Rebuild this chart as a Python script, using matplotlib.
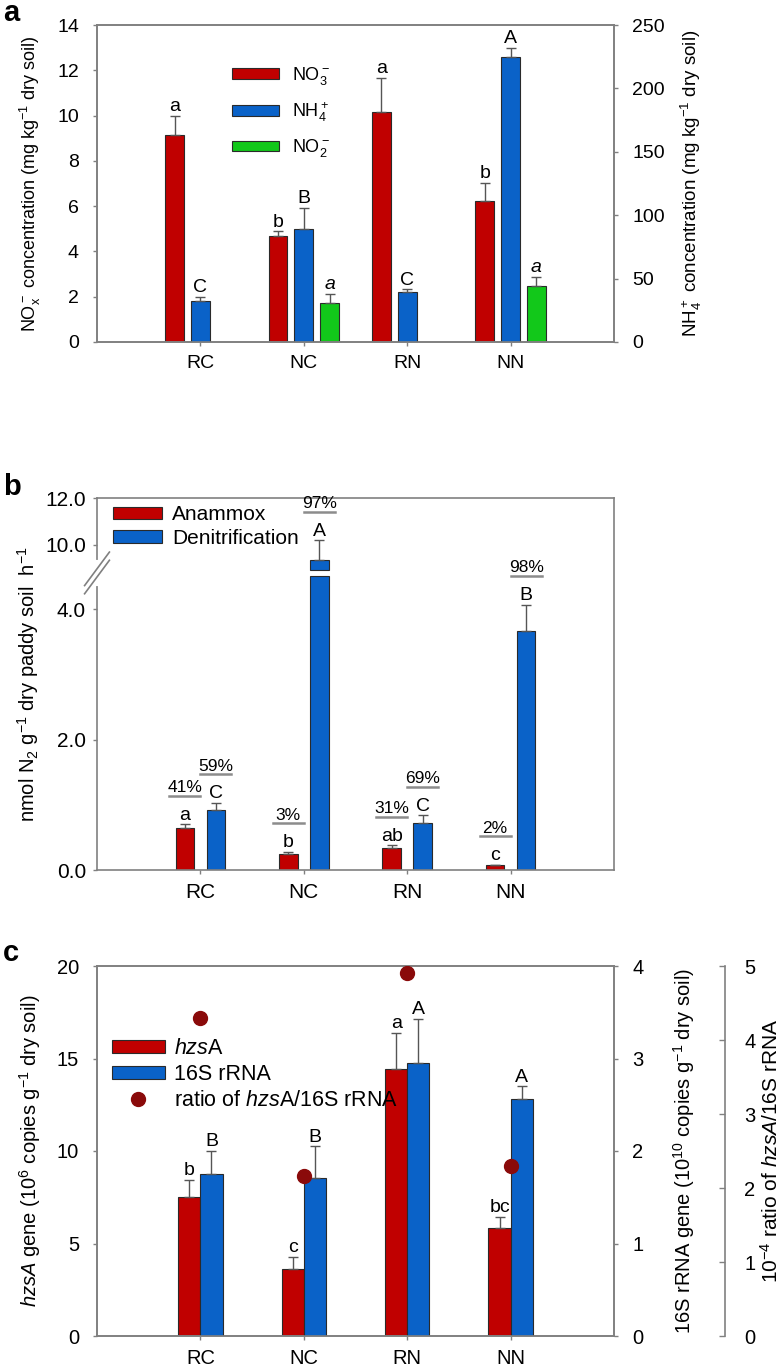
import numpy as np
import matplotlib
matplotlib.use("Agg")
import matplotlib.pyplot as plt
from matplotlib.transforms import offset_copy

plt.rcParams['font.family'] = ['Liberation Sans', 'DejaVu Sans']
plt.rcParams['mathtext.fontset'] = 'custom'
plt.rcParams['mathtext.rm'] = 'Liberation Sans'
plt.rcParams['mathtext.it'] = 'Liberation Sans:italic'
plt.rcParams['mathtext.default'] = 'regular'

# ---------------- data ----------------
groups = ['RC', 'NC', 'RN', 'NN']

# panel a
no3 = [9.14, 4.66, 10.15, 6.21]
no3_err = [0.85, 0.23, 1.52, 0.81]
nh4 = [32.1, 89.0, 39.8, 225.0]
nh4_err = [3.4, 16.7, 1.8, 7.0]
no2 = [np.nan, 1.72, np.nan, 2.48]
no2_err = [np.nan, 0.42, np.nan, 0.39]
no3_let = ['a', 'b', 'a', 'b']
nh4_let = ['C', 'B', 'C', 'A']
no2_let = ['', 'a', '', 'a']

# panel b
anammox = [0.64, 0.25, 0.33, 0.07]
anammox_err = [0.06, 0.03, 0.05, 0.01]
denit = [0.92, 9.37, 0.72, 3.66]
denit_err = [0.11, 0.82, 0.12, 0.41]
anammox_let = ['a', 'b', 'ab', 'c']
denit_let = ['C', 'A', 'C', 'B']
anammox_pct = ['41%', '3%', '31%', '2%']
denit_pct = ['59%', '97%', '69%', '98%']

# panel c
hzsa = [7.50, 3.64, 14.44, 5.84]
hzsa_err = [0.94, 0.64, 1.94, 0.60]
rrna = [1.75, 1.71, 2.95, 2.56]
rrna_err = [0.25, 0.34, 0.48, 0.14]
ratio = [4.30, 2.16, 4.90, 2.30]
hzsa_let = ['b', 'c', 'a', 'bc']
rrna_let = ['B', 'B', 'A', 'A']

# ---------------- style ----------------
RED = '#C00000'
BLUE = '#0A62C8'
GREEN = '#12C81A'
DOT = '#8A0A0A'
SPINE = '#808080'
EDGE = '#2a2a2a'
ECOL = '#555555'
LET_FS = 14

x = np.arange(1, len(groups) + 1)

fig = plt.figure(figsize=(7.83, 13.72), dpi=100)
L, W = 97 / 783, 517 / 783
axa = fig.add_axes([L, 1 - 342 / 1372, W, 317 / 1372])
axb = fig.add_axes([L, 1 - 870 / 1372, W, 372 / 1372])
axc = fig.add_axes([L, 1 - 1336 / 1372, W, 370 / 1372])


def style(ax, fs):
    for s in ax.spines.values():
        s.set_color(SPINE)
        s.set_linewidth(1.2)
    ax.tick_params(axis='both', direction='out', length=3, width=1.0,
                   color=SPINE, labelsize=fs, pad=10)
    ax.tick_params(axis='x', pad=6)


def err(ax, xs, vals, errs):
    ax.errorbar(xs, vals, yerr=[np.zeros(len(vals)), errs], fmt='none',
                ecolor=ECOL, elinewidth=1.0, capsize=3.5, capthick=1.0, zorder=3)


def letters(ax, xs, tops, labs, italic=False, dy=0.5):
    for xi, t, lab in zip(xs, tops, labs):
        if lab == '' or np.isnan(t):
            continue
        ax.annotate(lab, (xi, t), xytext=(0, dy), textcoords='offset points',
                    ha='center', va='bottom', fontsize=LET_FS,
                    fontstyle='italic' if italic else 'normal', zorder=4)


# ---------------- panel a ----------------
FA = 14
style(axa, FA)
axa2 = axa.twinx()
style(axa2, FA)
bw = 0.18
b_no3 = axa.bar(x - 0.25, no3, bw, color=RED, edgecolor=EDGE, linewidth=0.8)
b_no2 = axa.bar(x + 0.25, no2, bw, color=GREEN, edgecolor=EDGE, linewidth=0.8)
b_nh4 = axa2.bar(x, nh4, bw, color=BLUE, edgecolor=EDGE, linewidth=0.8)
err(axa, x - 0.25, no3, no3_err)
err(axa, x + 0.25, no2, no2_err)
err(axa2, x, nh4, nh4_err)
letters(axa, x - 0.25, np.add(no3, no3_err), no3_let)
letters(axa, x + 0.25, np.add(no2, no2_err), no2_let, italic=True)
letters(axa2, x, np.add(nh4, nh4_err), nh4_let)
axa.set_xlim(0, 5)
axa.set_ylim(0, 14)
axa.set_yticks(np.arange(0, 15, 2))
axa2.set_ylim(0, 250)
axa2.set_yticks(np.arange(0, 251, 50))
axa.set_xticks(x)
axa.set_xticklabels(groups)
axa.set_ylabel('NO$_x^-$ concentration (mg kg$^{-1}$ dry soil)', fontsize=13, labelpad=10)
axa2.set_ylabel('NH$_4^+$ concentration (mg kg$^{-1}$ dry soil)', fontsize=13.5,
                rotation=90, labelpad=10)
axa2.legend([b_no3, b_nh4, b_no2], ['NO$_3^-$', 'NH$_4^+$', 'NO$_2^-$'],
            loc='upper left', bbox_to_anchor=(0.261, 0.875), frameon=False,
            borderpad=0, borderaxespad=0, handlelength=2.6, handleheight=0.55,
            labelspacing=0.75, handletextpad=0.7, fontsize=13)

# ---------------- panel b ----------------
BRK_LO, BRK_HI, K = 4.555, 8.8, 0.359


def fwd(v):
    v = np.asarray(v, dtype=float)
    return np.where(v <= BRK_LO, v,
                    np.where(v >= BRK_HI, BRK_LO + (v - BRK_HI) * K, BRK_LO))


def inv(u):
    u = np.asarray(u, dtype=float)
    return np.where(u <= BRK_LO, u, BRK_HI + (u - BRK_LO) / K)


FB = 15
style(axb, FB)
axb.set_yscale('function', functions=(fwd, inv))
axb.set_ylim(0, 12)
axb.set_xlim(0, 5)
bw = 0.18
gap = 0.04
gap_lo = float(inv(BRK_LO - gap))
gap_hi = float(inv(BRK_LO + gap))
denit_arr = np.asarray(denit)
b_an = axb.bar(x - 0.15, anammox, bw, color=RED, edgecolor=EDGE, linewidth=0.8)
lower = np.where(denit_arr > BRK_HI, gap_lo, denit_arr)
b_de = axb.bar(x + 0.15, lower, bw, color=BLUE, edgecolor=EDGE, linewidth=0.8)
m = denit_arr > BRK_HI
axb.bar((x + 0.15)[m], denit_arr[m] - gap_hi, bw, bottom=gap_hi, color=BLUE,
        edgecolor=EDGE, linewidth=0.8)
err(axb, x - 0.15, anammox, anammox_err)
err(axb, x + 0.15, denit, denit_err)
an_top = np.add(anammox, anammox_err)
de_top = np.add(denit, denit_err)
letters(axb, x - 0.15, an_top, anammox_let)
letters(axb, x + 0.15, de_top, denit_let)
line_tr = offset_copy(axb.transData, fig=fig, x=0, y=20.5, units='points')
for xs, tops, pcts in ((x - 0.15, an_top, anammox_pct), (x + 0.15, de_top, denit_pct)):
    for xi, t, p in zip(xs, tops, pcts):
        axb.plot([xi - 0.15, xi + 0.15], [t, t], color='#8c8c8c', lw=1.8,
                 transform=line_tr, clip_on=False, zorder=4)
        axb.annotate(p, (xi, t), xytext=(0, 21), textcoords='offset points',
                     ha='center', va='bottom', fontsize=12.5, zorder=4)
axb.set_yticks([0, 2, 4, 10, 12])
axb.set_yticklabels(['0.0', '2.0', '4.0', '10.0', '12.0'])
axb.yaxis.set_minor_locator(matplotlib.ticker.NullLocator())
axb.set_xticks(x)
axb.set_xticklabels(groups)
axb.tick_params(axis='y', right=False, pad=5)
axb.set_ylabel('nmol N$_2$ g$^{-1}$ dry paddy soil  h$^{-1}$', fontsize=14.5, labelpad=3)
# break marks on the left spine
yb = BRK_LO / float(fwd(12))
axb.plot([0, 0], [yb - 0.03, yb + 0.03], transform=axb.transAxes, color='white',
         lw=3, clip_on=False, zorder=5)
for d in (-0.011, 0.011):
    axb.plot([-0.024, 0.024], [yb + d - 0.045, yb + d + 0.045], transform=axb.transAxes,
             color=SPINE, lw=1.2, clip_on=False, zorder=6)
axb.legend([b_an, b_de], ['Anammox', 'Denitrification'], loc='upper left',
           bbox_to_anchor=(0.031, 0.98), frameon=False, borderpad=0, borderaxespad=0,
           handlelength=2.35, handleheight=0.57, labelspacing=0.2, handletextpad=0.5,
           fontsize=15)

# ---------------- panel c ----------------
FC = 14.5
style(axc, FC)
axc2 = axc.twinx()
style(axc2, FC)
axc3 = axc.twinx()
style(axc3, FC)
axc3.spines['right'].set_position(('axes', 1.2147))
for s in ('left', 'top', 'bottom'):
    axc3.spines[s].set_visible(False)
bw = 0.214
b_hz = axc.bar(x - 0.107, hzsa, bw, color=RED, edgecolor=EDGE, linewidth=0.8)
b_rr = axc2.bar(x + 0.107, rrna, bw, color=BLUE, edgecolor=EDGE, linewidth=0.8)
err(axc, x - 0.107, hzsa, hzsa_err)
err(axc2, x + 0.107, rrna, rrna_err)
letters(axc, x - 0.107, np.add(hzsa, hzsa_err), hzsa_let)
letters(axc2, x + 0.107, np.add(rrna, rrna_err), rrna_let)
d_rt, = axc3.plot(x, ratio, 'o', color=DOT, markersize=10, linestyle='none', zorder=5)
axc.set_xlim(0, 5)
axc.set_ylim(0, 20)
axc.set_yticks(np.arange(0, 21, 5))
axc2.set_ylim(0, 4)
axc2.set_yticks(np.arange(0, 5, 1))
axc3.set_ylim(0, 5)
axc3.set_yticks(np.arange(0, 6, 1))
axc3.tick_params(axis='y', direction='in', length=4, pad=14)
axc.set_xticks(x)
axc.set_xticklabels(groups)
axc.set_ylabel('$\\it{hzsA}$ gene (10$^6$ copies g$^{-1}$ dry soil)', fontsize=14.5, labelpad=10)
axc2.set_ylabel('16S rRNA gene (10$^{10}$ copies g$^{-1}$ dry soil)', fontsize=14.5,
                rotation=90, labelpad=20)
axc3.set_ylabel('10$^{-4}$ ratio of $\\it{hzsA}$/16S rRNA', fontsize=15,
                rotation=90, labelpad=3)
axc3.legend([b_hz, b_rr, d_rt], ['$\\it{hzs}$A', '16S rRNA', 'ratio of $\\it{hzs}$A/16S rRNA'],
            loc='upper left', bbox_to_anchor=(0.029, 0.805), frameon=False, borderpad=0,
            borderaxespad=0, handlelength=2.45, handleheight=0.55, labelspacing=0.22,
            handletextpad=0.45, fontsize=15.5)

# panel letters
fig.text(0.004, 1 - 13 / 1372, 'a', fontsize=21, fontweight='bold', va='center')
fig.text(0.004, 1 - 487 / 1372, 'b', fontsize=21, fontweight='bold', va='center')
fig.text(0.004, 1 - 953 / 1372, 'c', fontsize=21, fontweight='bold', va='center')

fig.savefig('out.png', dpi=100)
